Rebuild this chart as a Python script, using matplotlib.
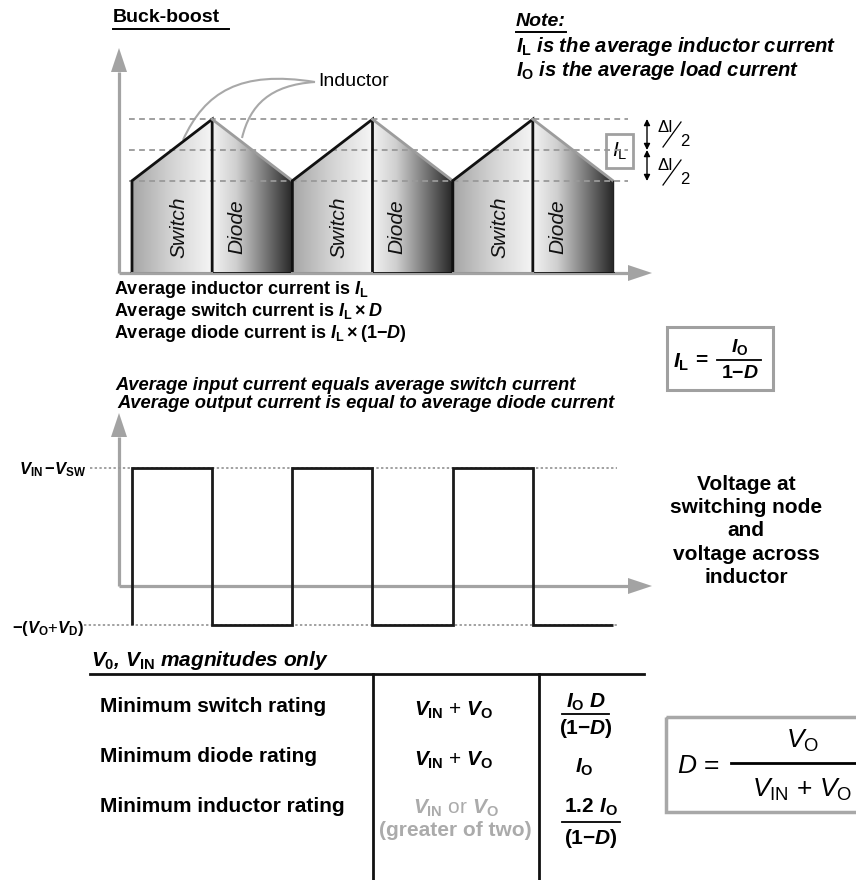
import numpy as np
import matplotlib as mpl
mpl.use("Agg")
import matplotlib.pyplot as plt
from matplotlib.patches import Polygon, Rectangle, PathPatch
from matplotlib.path import Path
from matplotlib.colors import LinearSegmentedColormap

mpl.rcParams['font.family'] = ['Liberation Sans', 'DejaVu Sans']
mpl.rcParams['mathtext.fontset'] = 'custom'
mpl.rcParams['mathtext.rm'] = 'Liberation Sans:bold'
mpl.rcParams['mathtext.it'] = 'Liberation Sans:bold:italic'
mpl.rcParams['mathtext.bf'] = 'Liberation Sans:bold'
mpl.rcParams['mathtext.sf'] = 'Liberation Sans'
mpl.rcParams['mathtext.cal'] = 'Liberation Sans:italic'

# ---------------- data ----------------
edge_times = [0.0, 0.5, 1.0, 1.5, 2.0, 2.5, 3.0]          # switching instants (periods)
inductor_current = [0.75, 1.25, 0.75, 1.25, 0.75, 1.25, 0.75]
current_levels = [0.75, 1.0, 1.25]                        # valley, I_L, peak
node_voltage = [3.0, -1.0, 3.0, -1.0, 3.0, -1.0]          # per switching interval
voltage_levels = [3.0, -1.0]
phase_labels = ["Switch", "Diode"]

current_notes = [r"Average inductor current is $I_{\mathrm{L}}$",
                 r"Average switch current is $I_{\mathrm{L}}\times D$",
                 r"Average diode current is $I_{\mathrm{L}}\times(1{-}D)$"]
flow_notes = ["Average input current equals average switch current",
              "Average output current is equal to average diode current"]
note_lines = [r"$I_{\mathrm{L}}$ is the average inductor current",
              r"$I_{\mathrm{O}}$ is the average load current"]
voltage_labels = [r"$V_{\mathrm{IN}}\,{-}V_{\mathrm{SW}}$",
                  r"${-}(V_{\mathrm{O}}$+$V_{\mathrm{D}})$"]
node_caption = "Voltage at\nswitching node\nand\nvoltage across\ninductor"
row_labels = ["Minimum switch rating", "Minimum diode rating", "Minimum inductor rating"]
voltage_ratings = [r"$V_{\mathrm{IN}}$ + $V_{\mathrm{O}}$", r"$V_{\mathrm{IN}}$ + $V_{\mathrm{O}}$"]

W, H = 856, 880
fig = plt.figure(figsize=(W / 100, H / 100), dpi=100)


def rect(l, t, r, b):
    return [l / W, 1 - b / H, (r - l) / W, (b - t) / H]


bg = fig.add_axes([0, 0, 1, 1])
bg.set_xlim(0, W)
bg.set_ylim(H, 0)
bg.axis("off")

AX = "#a3a3a3"


def axis_arrow(x0, y0, x1, y1, head=24, half=8):
    d = np.array([x1 - x0, y1 - y0], float)
    u = d / np.hypot(*d)
    n = np.array([-u[1], u[0]])
    base = np.array([x1, y1]) - u * head
    bg.plot([x0, base[0]], [y0, base[1]], color=AX, lw=2.3, solid_capstyle="butt")
    bg.add_patch(Polygon([(x1, y1), base + n * half, base - n * half],
                         closed=True, fc=AX, ec="none"))


# time mapping: t=0 at x=132 px, one period = 160.33 px
PX0, PXT = 132.0, 160.33
tmin, tmax = (119 - PX0) / PXT, (652 - PX0) / PXT

# ---------------- inductor current chart ----------------
axis_arrow(119, 273, 119, 48)
axis_arrow(119, 273, 652, 273)

ax_i = fig.add_axes(rect(119, 48, 652, 273))
ax_i.patch.set_alpha(0)
ax_i.axis("off")
I_SCALE = 123.0
sw_cmap = LinearSegmentedColormap.from_list("sw", ["#a6a6a6", "#d4d4d4", "#f6f6f6"])
dd_cmap = LinearSegmentedColormap.from_list(
    "dd", [(0, "#f2f2f2"), (0.3, "#cfcfcf"), (0.65, "#7a7a7a"), (1.0, "#262626")])
grad = np.linspace(0, 1, 256)[None, :]

n_cycles = len(edge_times) // 2
for k in range(n_cycles):
    t0, tp, t1 = edge_times[2 * k], edge_times[2 * k + 1], edge_times[2 * k + 2]
    i0, ip, i1 = inductor_current[2 * k], inductor_current[2 * k + 1], inductor_current[2 * k + 2]
    sw = Polygon([(t0, 0), (t0, i0), (tp, ip), (tp, 0)], closed=True,
                 fc="none", ec="none", transform=ax_i.transData)
    dd = Polygon([(tp, 0), (tp, ip), (t1, i1), (t1, 0)], closed=True,
                 fc="none", ec="none", transform=ax_i.transData)
    ax_i.add_patch(sw)
    ax_i.add_patch(dd)
    im1 = ax_i.imshow(grad, cmap=sw_cmap, extent=[t0, tp, 0, ip], aspect="auto",
                      interpolation="bilinear", zorder=1)
    im1.set_clip_path(sw)
    im2 = ax_i.imshow(grad, cmap=dd_cmap, extent=[tp, t1, 0, ip], aspect="auto",
                      interpolation="bilinear", zorder=1)
    im2.set_clip_path(dd)
    # outlines
    ax_i.plot([t0, t0, tp, tp], [0, i0, ip, 0], color="#111111", lw=2.0, zorder=4,
              solid_joinstyle="miter")
    ax_i.plot([tp, t1], [ip, i1], color="#9c9c9c", lw=2.0, zorder=4)
    ax_i.plot([tp, t1], [0, 0], color="#111111", lw=2.0, zorder=4)
    ax_i.plot([t1, t1], [0, i1], color="#222222", lw=1.0, zorder=4)
    ax_i.plot([t0, tp], [0, 0], color="#9a9a9a", lw=1.5, zorder=4)
    # phase labels
    ax_i.text(t0 + 0.293, 0.374, phase_labels[0], rotation=90, style="italic",
              fontsize=15, ha="center", va="center", color="#111111", zorder=5)
    ax_i.text(t0 + 0.655, 0.374, phase_labels[1], rotation=90, style="italic",
              fontsize=15, ha="center", va="center", color="#111111", zorder=5)

ax_i.hlines(current_levels, (129 - PX0) / PXT, (628 - PX0) / PXT, colors="#999999",
            lw=1.3, linestyles=(0, (3.2, 2.4)), zorder=3)
ax_i.set_xlim(tmin, tmax)
ax_i.set_ylim(0, 225 / I_SCALE)

# inductor call-out curves
for verts in ([(183, 140), (205, 92), (240, 70), (315, 82)],
              [(242, 138), (250, 105), (270, 85), (315, 82)]):
    bg.add_patch(PathPatch(Path(verts, [Path.MOVETO, Path.CURVE4, Path.CURVE4, Path.CURVE4]),
                           fc="none", ec="#a8a8a8", lw=1.5, zorder=6))
bg.text(318, 82, "Inductor", fontsize=14, va="center", ha="left", zorder=6)

# I_L box and ripple arrows
bg.add_patch(Rectangle((606, 134), 27, 34, fc="white", ec="#a0a0a0", lw=2))
bg.text(619.5, 151, r"$\mathcal{I}_{\mathsf{L}}$", fontsize=15, ha="center", va="center")
for ya, yb in ((119, 150), (150, 181)):
    bg.annotate("", xy=(647, ya), xytext=(647, yb),
                arrowprops=dict(arrowstyle="<|-|>", color="black", lw=1.0,
                                mutation_scale=9, shrinkA=0, shrinkB=0))
for yc in (127, 165):
    bg.text(658, yc, "\u0394I", fontsize=12, ha="left", va="center")
    bg.plot([663, 681], [yc + 20, yc - 5], color="black", lw=0.9)
    bg.text(680, yc + 14, "2", fontsize=12, ha="left", va="center")

# headings
bg.text(113, 18, "Buck-boost", fontsize=14, weight="bold", va="center")
bg.plot([113, 229], [29, 29], color="black", lw=1.4)
bg.text(516, 22, "Note:", fontsize=14, weight="bold", style="italic", va="center")
bg.plot([516, 566], [32, 32], color="black", lw=1.4)
for j, s in enumerate(note_lines):
    bg.text(516, 47 + 24 * j, s, fontsize=14.6, weight="bold", style="italic", va="center")

for j, s in enumerate(current_notes):
    bg.text(114, 290 + 22 * j, s, fontsize=13, weight="bold", va="center")
for j, s in enumerate(flow_notes):
    bg.text(115 + 2 * j, 386 + 17 * j, s, fontsize=13.2, weight="bold", style="italic",
            va="center")

# I_L formula box
bg.add_patch(Rectangle((667, 327), 106, 63, fc="none", ec="#a0a0a0", lw=2.2))
bg.text(681, 362, r"$I_{\mathrm{L}}$", fontsize=15, ha="center", va="center")
bg.text(701, 360, "=", fontsize=15, weight="bold", ha="center", va="center")
bg.plot([717, 761], [360, 360], color="black", lw=1.3)
bg.text(740, 347, r"$I_{\mathrm{O}}$", fontsize=14, ha="center", va="center")
bg.text(740, 374, r"$1{-}D$", fontsize=14, ha="center", va="center")

# ---------------- switching node voltage chart ----------------
axis_arrow(119, 586, 119, 413)
axis_arrow(119, 586, 652, 586)
ax_v = fig.add_axes(rect(119, 413, 652, 640))
ax_v.patch.set_alpha(0)
ax_v.axis("off")
V_SCALE = 39.33
ax_v.hlines(voltage_levels[0], (90 - PX0) / PXT, (617 - PX0) / PXT, colors="#9a9a9a",
            lw=1.3, linestyles=(0, (1.3, 1.3)), clip_on=False)
ax_v.hlines(voltage_levels[1], (84 - PX0) / PXT, (617 - PX0) / PXT, colors="#9a9a9a",
            lw=1.3, linestyles=(0, (1.3, 1.3)), clip_on=False)
ax_v.stairs(node_voltage, edge_times, baseline=voltage_levels[1], color="#1a1a1a",
            lw=2.0, zorder=3)
ax_v.set_xlim(tmin, tmax)
ax_v.set_ylim((586 - 640) / V_SCALE, (586 - 413) / V_SCALE)

bg.text(86, 470, voltage_labels[0], fontsize=12, ha="right", va="center")
bg.text(84, 628, voltage_labels[1], fontsize=12, ha="right", va="center")
bg.text(746, 531, node_caption, fontsize=15, weight="bold", ha="center", va="center",
        linespacing=1.27)

# ---------------- ratings table ----------------
bg.text(91, 660, r"$V_{\mathrm{0}}$, $V_{\mathrm{IN}}$ magnitudes only", fontsize=15,
        weight="bold", style="italic", va="center")
bg.plot([90, 644], [674, 674], color="#111111", lw=2.0)
bg.plot([373, 373], [674, 880], color="#111111", lw=2.0)
bg.plot([539, 539], [674, 880], color="#111111", lw=2.0)
for j, s in enumerate(row_labels):
    bg.text(100, [706, 756, 807][j], s, fontsize=15, weight="bold", va="center")
for j, s in enumerate(voltage_ratings):
    bg.text(454, [710, 760][j], s, fontsize=15, ha="center", va="center")
bg.text(456, 808, r"$V_{\mathrm{IN}}$ or $V_{\mathrm{O}}$", fontsize=15, ha="center",
        va="center", color="#ababab")
bg.text(455, 830, "(greater of two)", fontsize=15, weight="bold", ha="center",
        va="center", color="#ababab")

bg.text(586, 702, r"$I_{\mathrm{O}}\ D$", fontsize=15, ha="center", va="center")
bg.plot([562, 609], [714, 714], color="black", lw=1.3)
bg.text(586, 729, r"$(1{-}D)$", fontsize=15, ha="center", va="center")
bg.text(584, 767, r"$I_{\mathrm{O}}$", fontsize=15, ha="center", va="center")
bg.text(591, 807, r"$1.2\ I_{\mathrm{O}}$", fontsize=15, ha="center", va="center")
bg.plot([562, 620], [822, 822], color="black", lw=1.3)
bg.text(591, 838, r"$(1{-}D)$", fontsize=15, ha="center", va="center")

# duty-cycle box
bg.add_patch(Rectangle((666, 717), 210, 95, fc="none", ec="#a8a8a8", lw=2.5, clip_on=False))
bg.text(677, 766, r"$\mathcal{D}$ =", fontsize=19, ha="left", va="center")
bg.plot([731, 860], [763, 763], color="black", lw=2.0)
bg.text(803, 741, r"$\mathcal{V}_{\mathsf{O}}$", fontsize=19, ha="center", va="center")
bg.text(802, 790, r"$\mathcal{V}_{\mathsf{IN}}$ + $\mathcal{V}_{\mathsf{O}}$", fontsize=19,
        ha="center", va="center")

fig.savefig("out.png", dpi=100)
